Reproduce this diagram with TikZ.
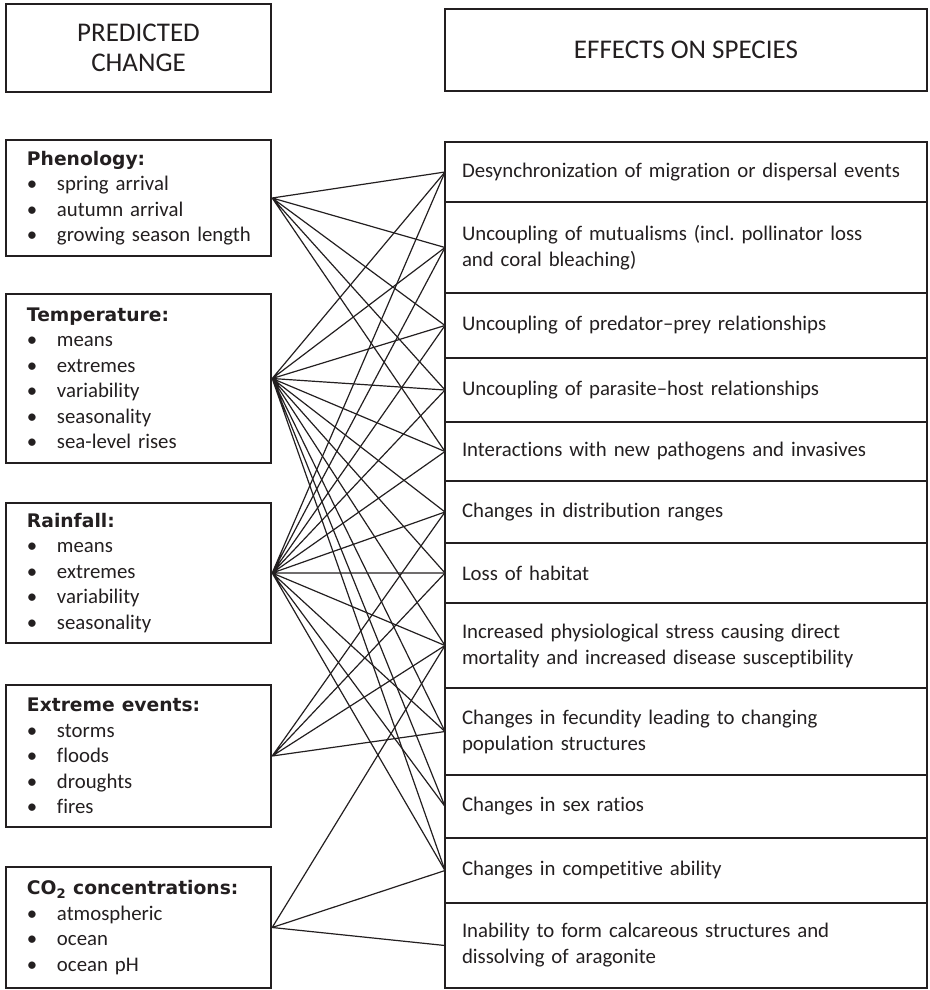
\documentclass[tikz,border=0pt]{standalone}
\usepackage{fontspec}
\setmainfont{Carlito}[Ligatures={TeX,NoCommon}]
\newfontfamily\titlefont{DejaVu Sans}
\usetikzlibrary{positioning}
\definecolor{ink}{HTML}{231F20}
\newcommand{\itm}[1]{\makebox[30pt][l]{\textbullet}\mbox{#1}}
\newcommand{\ttl}[1]{{\titlefont\bfseries\fontsize{18.7}{25.5}\selectfont #1}}
\tikzset{
  headbox/.style={draw=ink, line width=2.4pt, text=ink, align=center, inner sep=0pt,
    font=\fontsize{27}{30}\selectfont},
  causebox/.style={draw=ink, line width=2.4pt, text=ink, text width=223pt, inner xsep=21pt,
    inner ysep=0pt, align=left, font=\fontsize{20.8}{25.5}\selectfont},
  effectbox/.style={draw=ink, line width=2.4pt, text=ink, text width=448pt, inner xsep=17pt,
    inner ysep=0pt, outer sep=0pt, align=left, font=\fontsize{20.8}{26}\selectfont},
  link/.style={ink, line width=1.2pt}
}
\begin{document}
\begin{tikzpicture}[x=1pt,y=-1pt]
    \useasboundingbox (0,0) rectangle (929,990);
    % Column headings
    \node[headbox, minimum width=265pt, minimum height=88pt] (predhead) at (138.5,48) {PREDICTED\\CHANGE};
    \node[headbox, minimum width=482pt, minimum height=82pt] (effhead) at (686,50) {EFFECTS ON SPECIES};
    % Predicted changes
    \node[causebox, minimum height=116pt] (pheno) at (138.5,198)
      {\ttl{Phenology:}\\ \itm{spring arrival}\\ \itm{autumn arrival}\\ \itm{growing season length}};
    \node[causebox, minimum height=169pt] (temp) at (138.5,378.5)
      {\ttl{Temperature:}\\ \itm{means}\\ \itm{extremes}\\ \itm{variability}\\ \itm{seasonality}\\ \itm{sea-level rises}};
    \node[causebox, minimum height=140pt] (rain) at (138.5,573)
      {\ttl{Rainfall:}\\ \itm{means}\\ \itm{extremes}\\ \itm{variability}\\ \itm{seasonality}};
    \node[causebox, minimum height=142pt] (extreme) at (138.5,756)
      {\ttl{Extreme events:}\\ \itm{storms}\\ \itm{floods}\\ \itm{droughts}\\ \itm{fires}};
    \node[causebox, minimum height=121pt] (carbon) at (138.5,927.5)
      {\ttl{CO\textsubscript{2} concentrations:}\\ \itm{atmospheric}\\ \itm{ocean}\\ \itm{ocean pH}};
    % Effects on species, stacked
    \node[effectbox, minimum height=60pt, anchor=north] (r1) at (686,142)
      {Desynchronization of migration or dispersal events};
    \node[effectbox, minimum height=91pt, below=0pt of r1] (r2)
      {Uncoupling of mutualisms (incl.\ pollinator loss\\ and coral bleaching)};
    \node[effectbox, minimum height=65pt, below=0pt of r2] (r3)
      {Uncoupling of predator–prey relationships};
    \node[effectbox, minimum height=64pt, below=0pt of r3] (r4)
      {Uncoupling of parasite–host relationships};
    \node[effectbox, minimum height=59pt, below=0pt of r4] (r5)
      {Interactions with new pathogens and invasives};
    \node[effectbox, minimum height=62pt, below=0pt of r5] (r6)
      {Changes in distribution ranges};
    \node[effectbox, minimum height=60pt, below=0pt of r6] (r7)
      {Loss of habitat};
    \node[effectbox, minimum height=85pt, below=0pt of r7] (r8)
      {Increased physiological stress causing direct\\ mortality and increased disease susceptibility};
    \node[effectbox, minimum height=87pt, below=0pt of r8] (r9)
      {Changes in fecundity leading to changing\\ population structures};
    \node[effectbox, minimum height=63pt, below=0pt of r9] (r10)
      {Changes in sex ratios};
    \node[effectbox, minimum height=65pt, below=0pt of r10] (r11)
      {Changes in competitive ability};
    \node[effectbox, minimum height=85pt, below=0pt of r11] (r12)
      {Inability to form calcareous structures and\\ dissolving of aragonite};
    % Links from each change to the effects
    \draw[link] (pheno.east) -- (r1.west) (pheno.east) -- (r2.west) (pheno.east) -- (r3.west)
      (pheno.east) -- (r4.west) (pheno.east) -- (r5.west);
    \draw[link] (temp.east) -- (r1.west) (temp.east) -- (r2.west) (temp.east) -- (r3.west)
      (temp.east) -- (r4.west) (temp.east) -- (r5.west) (temp.east) -- (r6.west)
      (temp.east) -- (r7.west) (temp.east) -- (r8.west) (temp.east) -- (r9.west)
      (temp.east) -- (r10.west) (temp.east) -- (r11.west);
    \draw[link] (rain.east) -- (r1.west) (rain.east) -- (r2.west) (rain.east) -- (r3.west)
      (rain.east) -- (r4.west) (rain.east) -- (r5.west) (rain.east) -- (r6.west)
      (rain.east) -- (r7.west) (rain.east) -- (r8.west) (rain.east) -- (r9.west)
      (rain.east) -- (r10.west) (rain.east) -- (r11.west);
    \draw[link] (extreme.east) -- (r6.west) (extreme.east) -- (r7.west)
      (extreme.east) -- (r8.west) (extreme.east) -- (r9.west);
    \draw[link] (carbon.east) -- (r8.west) (carbon.east) -- (r11.west) (carbon.east) -- (r12.west);
\end{tikzpicture}
\end{document}
